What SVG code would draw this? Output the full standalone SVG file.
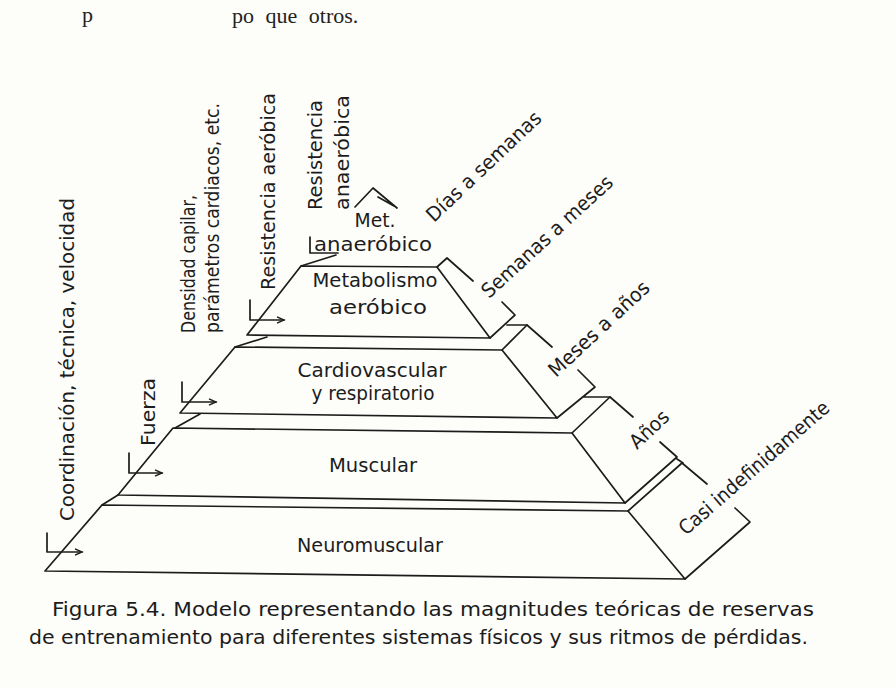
<svg xmlns="http://www.w3.org/2000/svg" width="896" height="688" viewBox="0 0 896 688">
<defs>
<style>
.ln{fill:none;stroke:#1c1c1c;stroke-width:1.7;stroke-linecap:round;stroke-linejoin:round}
.t{font-family:"DejaVu Sans","Liberation Sans",sans-serif;font-size:20px;fill:#1c1c1c}
.tc{text-anchor:middle}
.cap{font-family:"DejaVu Sans","Liberation Sans",sans-serif;font-size:20px;fill:#1c1c1c}
.top{font-family:"Liberation Serif",serif;font-size:22px;fill:#222;word-spacing:6px}
</style>
<marker id="ar" markerWidth="10" markerHeight="8" refX="8" refY="4" orient="auto" markerUnits="userSpaceOnUse">
<path d="M1,0.8 L8,4 L1,7.2" fill="none" stroke="#1c1c1c" stroke-width="1.4"/>
</marker>
</defs>
<rect width="896" height="688" fill="#fdfdfa"/>

<g id="top-fragment">
<text class="top" x="82" y="22">p</text>
<text class="top" x="232" y="23">po que otros.</text>
</g>

<g id="tier-neuromuscular">
<path class="ln" d="M45,571 L685,579 L628,511 L102,505 Z"/>
<path class="ln" d="M628,511 L682,463 L707,484 M735,508 L750,522 L685,579"/>
<text class="t tc" x="370" y="552" textLength="146" lengthAdjust="spacingAndGlyphs">Neuromuscular</text>
</g>

<g id="tier-muscular">
<path class="ln" d="M118,495 L625,503 L572,433 L173,428 Z"/>
<path class="ln" d="M118,495 L102,505"/>
<path class="ln" d="M572,433 L610,397 L633,417 M660,442 L677,457 L625,503 M677,459 L683,463"/>
<text class="t tc" x="373" y="472" textLength="88" lengthAdjust="spacingAndGlyphs">Muscular</text>
</g>

<g id="tier-cardio">
<path class="ln" d="M180,413 L557,418 L502,350 L235,347 Z"/>
<path class="ln" d="M175,428 L200,414"/>
<path class="ln" d="M502,350 L527,325 L552,347 M578,370 L595,387 L557,418 M583,397 L610,397"/>
<text class="t tc" x="372" y="377" textLength="149" lengthAdjust="spacingAndGlyphs">Cardiovascular</text>
<text class="t tc" x="373" y="400" textLength="123" lengthAdjust="spacingAndGlyphs">y respiratorio</text>
</g>

<g id="tier-metabolismo">
<path class="ln" d="M247,335 L490,338 L437,267 L301,266 Z"/>
<path class="ln" d="M235,347 L267,337"/>
<path class="ln" d="M437,267 L447,258 L473,281 M502,302 L515,315 L490,338 M507,325 L527,325"/>
<text class="t tc" x="375" y="287" textLength="125" lengthAdjust="spacingAndGlyphs">Metabolismo</text>
<text class="t tc" x="378" y="314" textLength="98" lengthAdjust="spacingAndGlyphs">aeróbico</text>
</g>

<g id="tier-anaerobico">
<path class="ln" d="M301,266 L336,255 M310,237 L310,253 L338,253"/>
<path class="ln" d="M355,207 L373,188 L397,208 M378,197 L394,206"/>
<text class="t tc" x="375" y="227" textLength="41" lengthAdjust="spacingAndGlyphs">Met.</text>
<text class="t" x="314" y="251" textLength="118" lengthAdjust="spacingAndGlyphs">anaeróbico</text>
</g>

<g id="connectors">
<path class="ln" d="M47,533 L47,552 L82,552" marker-end="url(#ar)"/>
<path class="ln" d="M129,453 L129,473 L162,473" marker-end="url(#ar)"/>
<path class="ln" d="M182,382 L182,402 L216,402" marker-end="url(#ar)"/>
<path class="ln" d="M250,300 L250,320 L284,320" marker-end="url(#ar)"/>
</g>

<g id="labels-left">
<text class="t" transform="translate(74,521) rotate(-90)" textLength="323" lengthAdjust="spacingAndGlyphs">Coordinación, técnica, velocidad</text>
<text class="t" transform="translate(155,446) rotate(-90)" textLength="68" lengthAdjust="spacingAndGlyphs">Fuerza</text>
<text class="t" transform="translate(195,333) rotate(-90)" textLength="138" lengthAdjust="spacingAndGlyphs">Densidad capilar,</text>
<text class="t" transform="translate(219,333) rotate(-90)" textLength="230" lengthAdjust="spacingAndGlyphs">parámetros cardiacos, etc.</text>
<text class="t" transform="translate(275,290) rotate(-90)" textLength="197" lengthAdjust="spacingAndGlyphs">Resistencia aeróbica</text>
<text class="t" transform="translate(322,210) rotate(-90)" textLength="110" lengthAdjust="spacingAndGlyphs">Resistencia</text>
<text class="t" transform="translate(349,210) rotate(-90)" textLength="115" lengthAdjust="spacingAndGlyphs">anaeróbica</text>
</g>

<g id="labels-right">
<text class="t" transform="translate(434,223) rotate(-43.5)" textLength="150" lengthAdjust="spacingAndGlyphs">Días a semanas</text>
<text class="t" transform="translate(489,299) rotate(-42.5)" textLength="170" lengthAdjust="spacingAndGlyphs">Semanas a meses</text>
<text class="t" transform="translate(556,378) rotate(-43)" textLength="130" lengthAdjust="spacingAndGlyphs">Meses a años</text>
<text class="t" transform="translate(637,450) rotate(-43)" textLength="46" lengthAdjust="spacingAndGlyphs">Años</text>
<text class="t" transform="translate(686,536) rotate(-41)" textLength="192" lengthAdjust="spacingAndGlyphs">Casi indefinidamente</text>
</g>

<g id="caption">
<text class="cap" x="52" y="616" textLength="762" lengthAdjust="spacingAndGlyphs">Figura 5.4.  Modelo representando las magnitudes teóricas de reservas</text>
<text class="cap" x="29" y="644" textLength="779" lengthAdjust="spacingAndGlyphs">de entrenamiento para diferentes sistemas físicos y sus ritmos de pérdidas.</text>
</g>
</svg>
